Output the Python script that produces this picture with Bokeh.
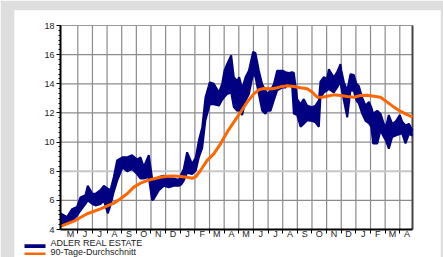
from bokeh.plotting import figure
from bokeh.models import (FixedTicker, SingleIntervalTicker, BoxAnnotation, Label,
                          Range1d, LinearAxis)
from bokeh.embed import file_html
from bokeh.resources import INLINE

# ---------------- data (x in months, 0 = 1 May of year 1) ----------------
month_labels = ["M", "J", "J", "A", "S", "O", "N", "D", "J", "F", "M", "A",
                "M", "J", "J", "A", "S", "O", "N", "D", "J", "F", "M", "A"]
month_bounds = list(range(1, 24))
y_grid_values = [6, 10, 12, 14, 16]
y_highlight = [8]

price_x = [-0.18, 0.27, 0.61, 0.95, 1.18, 1.52, 1.68, 2.0, 2.21, 2.55, 2.78, 3.05,
           3.23, 3.46, 3.69, 4.05, 4.37, 4.71, 5.05, 5.28, 5.51, 5.85, 6.08, 6.19,
           6.54, 6.88, 7.22, 7.56, 7.90, 8.08, 8.24, 8.47, 8.81, 9.06, 9.27, 9.50,
           9.72, 10.02, 10.29, 10.64, 10.86, 11.02, 11.20, 11.48, 11.66, 11.89, 12.03,
           12.23, 12.46, 12.69, 12.98, 13.14, 13.37, 13.60, 13.82, 13.94, 14.17, 14.39,
           14.62, 14.99, 15.19, 15.42, 15.65, 15.76, 15.99, 16.22, 16.44, 16.67, 17.01,
           17.24, 17.47, 17.58, 17.81, 18.04, 18.15, 18.49, 18.72, 18.95, 19.0, 19.18,
           19.41, 19.63, 19.86, 20.04, 20.20, 20.43, 20.66, 20.89, 21.05, 21.18, 21.46,
           21.68, 21.91, 22.05, 22.25, 22.48, 22.71, 23.0, 23.16, 23.39, 23.62, 23.87]

price_high = [5.1, 4.85, 5.4, 5.55, 6.2, 6.35, 7.0, 6.45, 6.45, 6.7, 7.0, 6.8,
              6.7, 7.6, 8.75, 8.95, 8.95, 9.1, 8.8, 8.95, 8.3, 9.1, 7.5, 7.25,
              7.6, 7.7, 7.5, 7.5, 7.4, 7.8, 8.15, 9.3, 8.5, 8.95, 10.1, 11.0,
              13.05, 14.1, 14.0, 13.4, 14.0, 14.9, 15.35, 15.95, 14.45, 14.2, 14.45,
              13.65, 14.45, 14.9, 16.2, 16.1, 14.9, 13.95, 13.55, 13.3, 13.55, 13.95,
              14.9, 14.9, 14.8, 14.75, 14.8, 14.75, 12.95, 12.6, 12.95, 12.5, 12.4,
              12.5, 12.85, 14.15, 14.45, 14.35, 15.0, 14.45, 14.8, 15.35, 14.95, 14.1,
              13.55, 14.65, 14.6, 14.0, 13.85, 13.05, 12.5, 12.75, 12.4, 11.95, 12.15,
              11.95, 11.25, 11.05, 11.85, 11.25, 11.4, 11.85, 11.4, 11.15, 11.25, 10.8]

price_low = [4.3, 4.4, 4.6, 4.95, 5.3, 5.75, 6.0, 5.75, 5.65, 5.75, 6.0, 5.1,
             5.65, 6.6, 7.35, 8.25, 8.0, 8.15, 7.8, 7.5, 7.5, 7.6, 6.0, 6.1,
             6.7, 7.0, 6.9, 7.0, 7.0, 7.1, 7.35, 7.9, 7.8, 8.05, 8.95, 9.6,
             11.5, 12.6, 12.6, 12.5, 12.9, 13.1, 13.3, 13.4, 12.4, 12.15, 12.2,
             11.85, 12.85, 13.3, 14.7, 14.45, 13.3, 12.15, 11.95, 12.15, 12.15, 12.85,
             13.55, 13.75, 13.75, 14.05, 13.75, 11.95, 11.85, 11.05, 11.25, 11.5, 11.45,
             11.35, 11.05, 13.05, 13.4, 13.55, 13.65, 13.4, 13.75, 14.15, 13.75, 12.85,
             11.7, 13.55, 13.5, 12.85, 12.65, 11.95, 11.45, 11.3, 11.05, 9.9, 9.9,
             10.8, 10.35, 10.1, 9.55, 10.35, 10.45, 10.55, 10.6, 9.9, 10.55, 10.45]

ma_x = [-0.18, 0.73, 1.64, 2.55, 3.46, 3.92, 4.37, 4.83, 5.28, 5.74, 6.19, 6.65,
        7.10, 7.56, 8.02, 8.47, 8.81, 9.04, 9.38, 9.84, 10.29, 10.75, 11.20, 11.66,
        12.12, 12.57, 13.03, 13.37, 13.71, 14.28, 14.62, 14.96, 15.31, 15.76, 16.22,
        16.67, 17.01, 17.36, 17.70, 18.04, 18.49, 18.95, 19.41, 19.86, 20.32, 20.77,
        21.23, 21.68, 22.14, 22.60, 23.05, 23.50, 23.87]

ma_y = [4.21, 4.57, 5.08, 5.42, 5.81, 6.11, 6.45, 6.91, 7.18, 7.36, 7.48, 7.59,
        7.66, 7.68, 7.64, 7.59, 7.52, 7.59, 8.05, 8.74, 9.19, 9.88, 10.68, 11.37,
        12.05, 12.74, 13.31, 13.59, 13.68, 13.66, 13.73, 13.82, 13.86, 13.82, 13.73,
        13.66, 13.43, 13.08, 13.08, 13.15, 13.24, 13.20, 13.13, 13.08, 13.20, 13.22,
        13.15, 13.08, 12.74, 12.40, 12.10, 11.89, 11.71]

series_names = ["ADLER REAL ESTATE", "90-Tage-Durchschnitt"]
source_text = "Source: Thomson Reuters Datastream"

# ---------------- layout (figure fills the 443x257 window) ----------------
W, H = 443, 257
X0, X1 = -0.182, 23.868         # plot-area x extent (months)
Y0, Y1 = 4, 18                  # plot-area y extent
PL, PR, PT, PB = 60, 412, 25, 229   # plot-area pixels
KX = (PR - PL) / (X1 - X0)
KY = (PB - PT) / (Y1 - Y0)


def px(x):
    """pixel x -> data x"""
    return X0 + (x - PL) / KX


def py(y):
    """pixel y -> data y"""
    return Y0 + (PB - y) / KY


# frame = white panel (x 14..440, y 10..257)
WL, WR, WT = 14, 440, 10

FONT = "Liberation Sans"
NAVY = "#000080"
ORANGE = "#ff6600"
GRID = "#8c8c8c"

p = figure(width=W, height=H, x_range=Range1d(px(WL), px(WR)),
           y_range=Range1d(py(H), py(WT)),
           output_backend="svg", toolbar_location=None,
           x_axis_location=None, y_axis_location=None,
           min_border_left=WL, min_border_right=W - WR, min_border_top=WT,
           min_border_bottom=0, border_fill_color="#dedede",
           background_fill_color="white", outline_line_color=None)
p.grid.visible = False

# grid lines (inside the plot area only)
p.segment(x0=month_bounds, x1=month_bounds, y0=[Y0] * len(month_bounds),
          y1=[Y1] * len(month_bounds), line_color=GRID, line_width=1.2)
p.segment(x0=[X0] * len(y_grid_values), x1=[X1] * len(y_grid_values),
          y0=y_grid_values, y1=y_grid_values, line_color=GRID, line_width=1.2)
p.segment(x0=[X0], x1=[X1], y0=y_highlight, y1=y_highlight,
          line_color="#c8c8c8", line_width=2)
# plot border: top and right
p.segment(x0=[X0], x1=[X1], y0=[Y1], y1=[Y1], line_color="#999999", line_width=1.2)
p.segment(x0=[X1], x1=[X1], y0=[Y0], y1=[Y1], line_color="#444444", line_width=2)

# series
p.varea(x=price_x, y1=price_low, y2=price_high, fill_color=NAVY)
p.line(price_x, price_high, line_color=NAVY, line_width=2)
p.line(price_x, price_low, line_color=NAVY, line_width=2)
p.line(ma_x, ma_y, line_color=ORANGE, line_width=3)

# axes at fixed positions
xa = LinearAxis(fixed_location=Y0, bounds=(X0, X1))
xa.ticker = FixedTicker(ticks=[k + 0.5 for k in range(len(month_labels))],
                        minor_ticks=month_bounds)
xa.major_label_overrides = {k + 0.5: lab for k, lab in enumerate(month_labels)}
xa.axis_line_color = "black"
xa.axis_line_width = 2
xa.major_tick_in = 0
xa.major_tick_out = 0
xa.minor_tick_in = 0
xa.minor_tick_out = 4
xa.minor_tick_line_color = "black"
xa.major_label_text_font = FONT
xa.major_label_text_font_size = "9px"
xa.major_label_text_color = "#222222"
xa.major_label_standoff = -5
p.add_layout(xa, "below")

ya = LinearAxis(fixed_location=X0, bounds=(Y0, Y1))
ya.ticker = SingleIntervalTicker(interval=2, num_minor_ticks=6)
ya.axis_line_color = "black"
ya.axis_line_width = 2
ya.major_tick_in = 0
ya.major_tick_out = 4
ya.minor_tick_in = 0
ya.minor_tick_out = 2
ya.major_tick_line_color = "black"
ya.minor_tick_line_color = "black"
ya.major_label_text_font = FONT
ya.major_label_text_font_size = "9px"
ya.major_label_text_color = "#222222"
ya.major_label_standoff = 2
p.add_layout(ya, "left")

# legend (manual)
p.add_layout(BoxAnnotation(left=px(24), right=px(45), top=py(243.8), bottom=py(247.5),
                           fill_color=NAVY, fill_alpha=1, line_color=None))
p.add_layout(BoxAnnotation(left=px(24), right=px(45), top=py(252), bottom=py(254.5),
                           fill_color=ORANGE, fill_alpha=1, line_color=None))
p.add_layout(Label(x=px(50), y=py(242.5), text=series_names[0], text_font=FONT,
                   text_font_size="9px", text_baseline="middle", text_color="#222222"))
p.add_layout(Label(x=px(50), y=py(251), text=series_names[1], text_font=FONT,
                   text_font_size="9px", text_baseline="middle", text_color="#222222"))
p.add_layout(Label(x=px(260), y=py(259.5), text=source_text, text_font=FONT,
                   text_font_size="9.5px", text_baseline="alphabetic",
                   text_color="#222222"))

open("out.html", "w").write(file_html(p, INLINE))
